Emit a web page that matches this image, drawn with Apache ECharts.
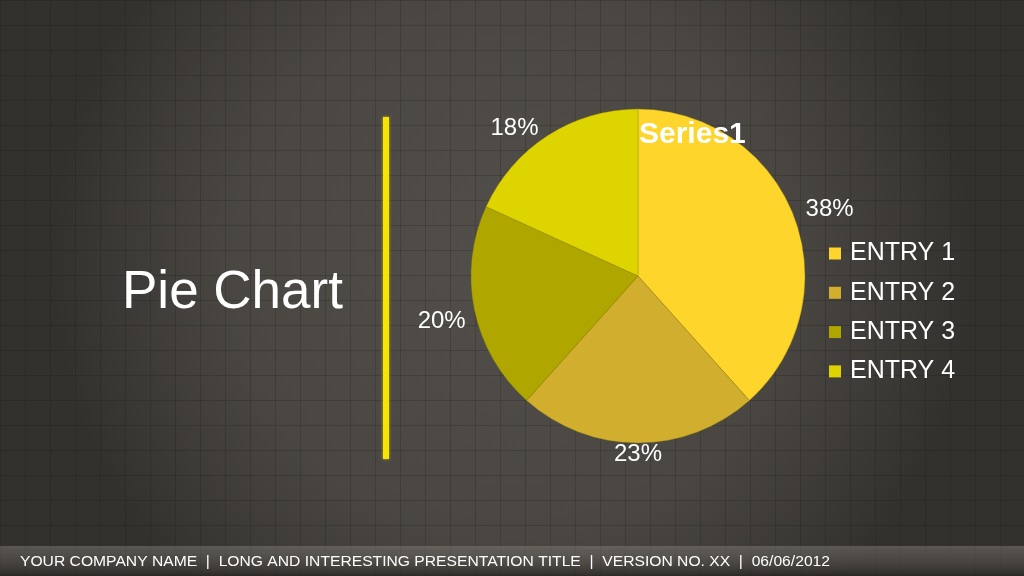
<!DOCTYPE html>
<html>
<head>
<meta charset="utf-8">
<script src="https://cdn.jsdelivr.net/npm/echarts@6/dist/echarts.min.js"></script>
<style>
html,body{margin:0;padding:0;width:1024px;height:576px;overflow:hidden;background:#45423e;}
#chart{width:1024px;height:576px;}
</style>
</head>
<body>
<div id="chart"></div>
<script>
var categories = ['ENTRY 1', 'ENTRY 2', 'ENTRY 3', 'ENTRY 4'];
var values = [38, 23, 20, 18];
var seriesName = 'Series1';
var colors = ['#fdd52b', '#d2ae2e', '#afa700', '#ddd400'];
var footerText = 'YOUR COMPANY NAME  |  LONG AND INTERESTING PRESENTATION TITLE  |  VERSION NO. XX  |  06/06/2012';
var total = values.reduce(function (a, b) { return a + b; }, 0);

// grid pattern canvas for background texture
var pc = document.createElement('canvas');
pc.width = 25; pc.height = 25;
var px = pc.getContext('2d');
px.strokeStyle = 'rgba(20,18,16,0.2)';
px.lineWidth = 1;
px.beginPath();
px.moveTo(0.5, 0); px.lineTo(0.5, 25);
px.moveTo(0, 0.5); px.lineTo(25, 0.5);
px.stroke();

// measure footer for condensed look
var mc = document.createElement('canvas').getContext('2d');
mc.font = '15px "Liberation Sans", Arial, sans-serif';
var fw = mc.measureText(footerText).width;
var fScale = 810 / fw;

// small label nudges (dx, dy, align) per slice
var labelNudge = [
  {dx: 1, dy: -5},
  {dx: -5, dy: 5, align: 'center'},
  {dx: 2, dy: 10},
  {dx: -1, dy: -2}
];

var chart = echarts.init(document.getElementById('chart'));
var option = {
  backgroundColor: {
    type: 'radial', x: 0.5, y: 0.45, r: 0.8,
    colorStops: [
      {offset: 0, color: '#524f4b'},
      {offset: 0.6, color: '#4a4743'},
      {offset: 1, color: '#33312e'}
    ]
  },
  title: {
    text: seriesName,
    left: 639, top: 120,
    padding: 0,
    textStyle: {color: '#ffffff', fontSize: 30, fontWeight: 'bold', fontFamily: 'Liberation Sans, Arial, sans-serif'}
  },
  legend: {
    orient: 'vertical',
    left: 829, top: 241,
    padding: 0,
    icon: 'rect',
    itemWidth: 12, itemHeight: 12,
    itemGap: 14.3,
    itemStyle: {borderWidth: 0},
    data: categories,
    textStyle: {color: '#ffffff', fontSize: 25, fontFamily: 'Liberation Sans, Arial, sans-serif', padding: [0, 0, 0, 4]}
  },
  graphic: [
    {type: 'rect', z: -10, silent: true, shape: {x: 0, y: 0, width: 1024, height: 576},
      style: {fill: {image: pc, repeat: 'repeat'}}},
    {type: 'rect', z: -9, silent: true, shape: {x: 0, y: 546, width: 1024, height: 30},
      style: {fill: {type: 'linear', x: 0, y: 0, x2: 0, y2: 1, colorStops: [
        {offset: 0, color: 'rgba(130,125,118,0.5)'},
        {offset: 0.5, color: 'rgba(90,86,81,0.55)'},
        {offset: 1, color: 'rgba(40,38,35,0.8)'}]}}},
    {type: 'rect', silent: true, shape: {x: 383, y: 117, width: 6, height: 342},
      style: {fill: '#f7e400', shadowBlur: 3, shadowColor: 'rgba(240,220,0,0.7)'}},
    {type: 'text', silent: true, x: 122, y: 293,
      style: {text: 'Pie Chart', fill: '#ffffff', font: '53px "Liberation Sans", Arial, sans-serif', textVerticalAlign: 'middle'}},
    {type: 'text', silent: true, x: 20, y: 562, scaleX: fScale,
      style: {text: footerText, fill: '#ffffff', font: '15px "Liberation Sans", Arial, sans-serif', textVerticalAlign: 'middle'}}
  ],
  series: [{
    type: 'pie',
    name: seriesName,
    center: [638, 276],
    radius: 167,
    startAngle: 90,
    clockwise: true,
    color: colors,
    itemStyle: {borderColor: 'rgba(140,130,0,0.6)', borderWidth: 0.6},
    label: {
      show: true,
      position: 'outside',
      formatter: function (p) { return Math.round(p.value / total * 100) + '%'; },
      color: '#ffffff',
      fontSize: 24,
      fontFamily: 'Liberation Sans, Arial, sans-serif'
    },
    labelLine: {show: false, length: 6, length2: 0},
    labelLayout: function (p) { return labelNudge[p.dataIndex]; },
    emphasis: {scale: false},
    animation: false,
    data: categories.map(function (c, i) { return {name: c, value: values[i]}; })
  }]
};
chart.setOption(option);
</script>
</body>
</html>
